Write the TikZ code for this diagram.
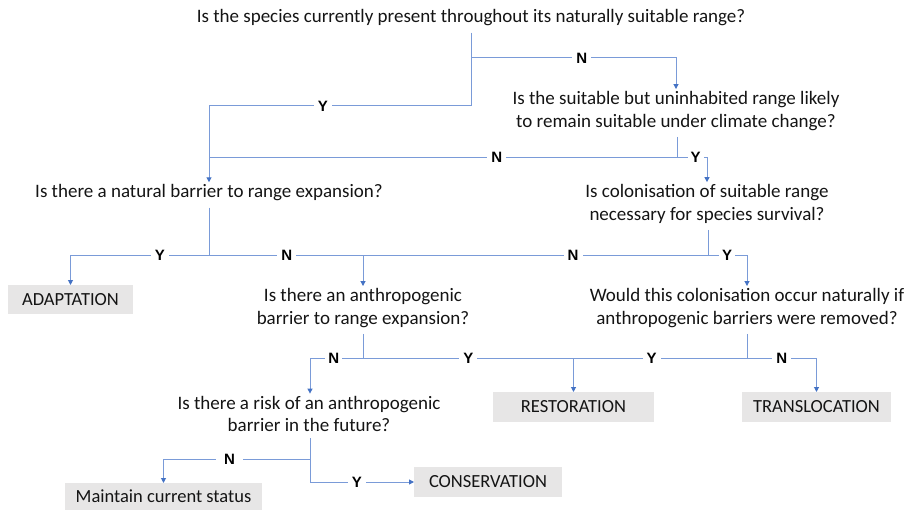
\documentclass[tikz,border=0pt]{standalone}
\usepackage{fontspec}
\setmainfont{Carlito}
\newfontfamily\labfont{Liberation Sans}
\usetikzlibrary{arrows.meta}
\definecolor{lineblue}{RGB}{122,155,216}
\definecolor{tipblue}{RGB}{68,114,196}
\definecolor{boxgray}{RGB}{231,230,230}
\definecolor{txt}{RGB}{20,20,20}
\tikzset{
  qnode/.style={align=center, font=\fontsize{19}{22.5}\selectfont, text=txt, inner sep=2.5pt, outer sep=0pt},
  outbox/.style={fill=boxgray, font=\fontsize{18.5}{22}\selectfont, text=txt, inner sep=0pt, outer sep=0pt},
  ln/.style={draw=lineblue, line width=1pt},
  stem/.style={ln, shorten <=4pt},
  arr/.style={ln, -{Triangle[length=5pt,width=5pt,color=tipblue]}},
  lab/.style={fill=white, font=\labfont\bfseries\fontsize{15}{15}\selectfont, text=black, inner xsep=4pt, inner ysep=1pt},
}
\begin{document}
\begin{tikzpicture}[x=1pt,y=-1pt]
\useasboundingbox (0,0) rectangle (906,511);

% question nodes
\node[qnode] (q1) at (471,18) {Is the species currently present throughout its naturally suitable range?};
\node[qnode] (q2) at (676,111) {Is the suitable but uninhabited range likely\\to remain suitable under climate change?};
\node[qnode] (q3) at (209,193) {Is there a natural barrier to range expansion?};
\node[qnode] (q4) at (707,204) {Is colonisation of suitable range\\necessary for species survival?};
\node[qnode] (q6) at (363,308) {Is there an anthropogenic\\barrier to range expansion?};
\node[qnode] (q5) at (747,308) {Would this colonisation occur naturally if\\anthropogenic barriers were removed?};
\node[qnode] (q7) at (309,414) {Is there a risk of an anthropogenic\\barrier in the future?};

% outcome boxes
\node[outbox, minimum width=125pt, minimum height=29pt] (ad) at (70.5,299.5) {ADAPTATION};
\node[outbox, minimum width=161pt, minimum height=30pt] (rest) at (573.5,407) {RESTORATION};
\node[outbox, minimum width=149pt, minimum height=30pt] (trans) at (816.5,407) {TRANSLOCATION};
\node[outbox, minimum width=148pt, minimum height=30pt] (cons) at (488,482) {CONSERVATION};
\node[outbox, minimum width=197pt, minimum height=27pt] (maint) at (163.5,496.5) {Maintain current status};

% junctions
\coordinate (j1n) at (471,58);
\coordinate (j1y) at (471,106);
\coordinate (j2) at (677,157);
\coordinate (j3) at (209,255);
\coordinate (j4) at (708,255);
\coordinate (j6) at (363,358);
\coordinate (j5) at (747,358);
\coordinate (j7n) at (310,459);
\coordinate (j7y) at (310,482);

% Q1
\draw[stem] (q1.south -| j1y) -- (j1y);
\draw[arr] (j1n) -- node[lab, pos=0.54]{N} (j1n -| q2) -- (q2.north);
\draw[arr] (j1y) -- node[lab, pos=0.565]{Y} (j1y -| q3) -- (q3.north);

% Q2
\draw[stem] (q2.south -| j2) -- (j2);
\draw[ln] (j2) -- node[lab, pos=0.385]{N} (j2 -| q3);
\draw[arr] (j2) -- node[lab, pos=0.62, inner xsep=3pt]{Y} (j2 -| q4) -- (q4.north);

% Q3
\draw[stem] (q3.south) -- (j3);
\draw[arr] (j3) -- node[lab, pos=0.355]{Y} (j3 -| ad) -- (ad.north);
\draw[arr] (j3) -- node[lab, pos=0.505]{N} (j3 -| q6) -- (q6.north);

% Q4
\draw[stem] (q4.south -| j4) -- (j4);
\draw[ln] (j4) -- node[lab, pos=0.391]{N} (j4 -| q6);
\draw[arr] (j4) -- node[lab, pos=0.49, inner xsep=3pt]{Y} (j4 -| q5) -- (q5.north);

% Q6
\draw[stem] (q6.south) -- (j6);
\draw[arr] (j6) -- node[lab, pos=0.55, inner xsep=3pt]{N} (j6 -| j7n) -- (q7.north -| j7n);
\draw[arr] (j6) -- node[lab, pos=0.5]{Y} (j6 -| rest) -- (rest.north);

% Q5
\draw[stem] (q5.south) -- (j5);
\draw[ln] (j5) -- node[lab, pos=0.55]{Y} (j5 -| rest);
\draw[arr] (j5) -- node[lab, pos=0.5]{N} (j5 -| trans) -- (trans.north);

% Q7
\draw[stem] (q7.south -| j7y) -- (j7y);
\draw[arr] (j7n) -- node[lab, pos=0.55, inner xsep=8pt]{N} (j7n -| maint) -- (maint.north);
\draw[arr] (j7y) -- node[lab, pos=0.45]{Y} (cons.west);
\end{tikzpicture}
\end{document}
